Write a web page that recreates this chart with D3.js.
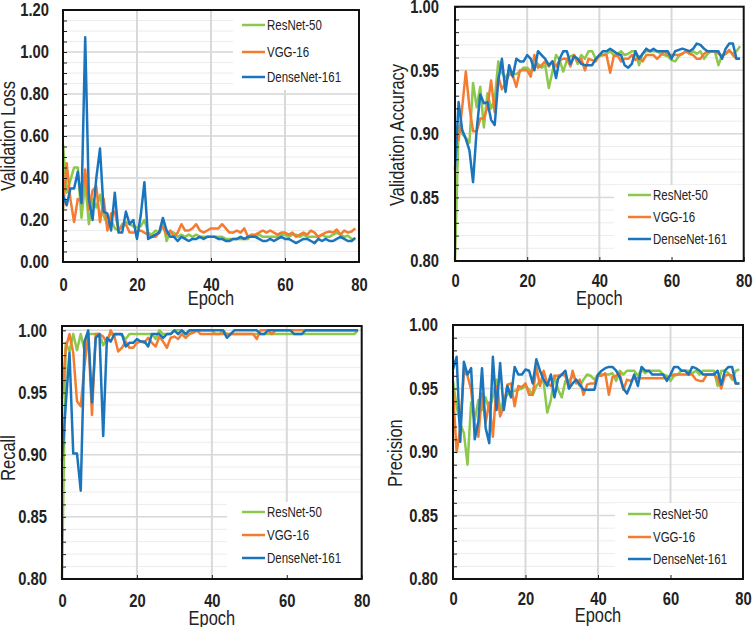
<!DOCTYPE html>
<html>
<head>
<meta charset="utf-8">
<script src="https://cdn.jsdelivr.net/npm/d3@7"></script>
<style>
  html, body { margin: 0; padding: 0; background: #fff; }
  svg { display: block; }
  text { font-family: "Liberation Sans", Arial, Helvetica, sans-serif; }
</style>
</head>
<body>
<svg id="chart" width="753" height="627"></svg>
<script>
// ---------------- DATA ----------------
const epochs = d3.range(0, 80);
const seriesNames = ["ResNet-50", "VGG-16", "DenseNet-161"];
const seriesColors = ["#8cc84b", "#f47c30", "#1b75bc"];
const xTickValues = [0, 20, 40, 60, 80];

const lossTicks = [0.0, 0.2, 0.4, 0.6, 0.8, 1.0, 1.2];
const metricTicks = [0.80, 0.85, 0.90, 0.95, 1.00];

const lossResNet = [0.56,0.33,0.39,0.45,0.45,0.21,0.38,0.18,0.30,0.26,
 0.32,0.22,0.18,0.20,0.16,0.15,0.18,0.19,0.18,0.17,
 0.165,0.17,0.20,0.14,0.13,0.15,0.14,0.20,0.10,0.145,
 0.14,0.12,0.13,0.12,0.13,0.12,0.13,0.12,0.12,0.12,
 0.12,0.12,0.12,0.12,0.11,0.11,0.11,0.11,0.11,0.11,
 0.11,0.13,0.12,0.13,0.12,0.12,0.12,0.12,0.12,0.13,
 0.13,0.12,0.13,0.13,0.12,0.13,0.12,0.12,0.12,0.12,
 0.13,0.12,0.12,0.13,0.14,0.13,0.12,0.125,0.11,0.11];
const lossVGG = [0.25,0.47,0.30,0.19,0.30,0.29,0.44,0.25,0.34,0.36,
 0.19,0.30,0.15,0.23,0.24,0.15,0.17,0.18,0.14,0.14,
 0.145,0.15,0.14,0.13,0.12,0.12,0.14,0.17,0.13,0.15,
 0.12,0.14,0.18,0.15,0.15,0.16,0.18,0.15,0.14,0.15,
 0.16,0.16,0.16,0.18,0.16,0.14,0.14,0.15,0.14,0.16,
 0.12,0.13,0.13,0.14,0.15,0.14,0.15,0.14,0.13,0.14,
 0.14,0.13,0.14,0.12,0.13,0.14,0.13,0.15,0.14,0.12,
 0.13,0.14,0.145,0.14,0.155,0.13,0.15,0.14,0.145,0.16];
const lossDense = [0.32,0.27,0.35,0.35,0.43,0.28,1.07,0.30,0.20,0.40,
 0.54,0.24,0.23,0.15,0.33,0.14,0.14,0.24,0.18,0.20,
 0.11,0.22,0.38,0.11,0.12,0.13,0.14,0.21,0.15,0.12,
 0.12,0.10,0.12,0.11,0.10,0.11,0.11,0.12,0.11,0.12,
 0.12,0.12,0.11,0.11,0.10,0.10,0.11,0.11,0.12,0.11,
 0.12,0.12,0.12,0.11,0.10,0.10,0.11,0.10,0.11,0.12,
 0.11,0.11,0.10,0.09,0.10,0.11,0.11,0.10,0.09,0.11,
 0.10,0.11,0.10,0.10,0.11,0.12,0.11,0.10,0.10,0.115];

const accResNet = [0.80,0.906,0.900,0.897,0.893,0.940,0.921,0.937,0.905,0.932,
 0.920,0.927,0.957,0.948,0.944,0.949,0.947,0.947,0.949,0.952,
 0.952,0.949,0.952,0.955,0.952,0.954,0.936,0.949,0.962,0.958,
 0.949,0.958,0.961,0.962,0.955,0.962,0.959,0.965,0.965,0.959,
 0.961,0.962,0.963,0.965,0.962,0.963,0.965,0.962,0.963,0.965,
 0.965,0.954,0.963,0.965,0.965,0.965,0.965,0.963,0.962,0.961,
 0.958,0.957,0.961,0.963,0.965,0.963,0.965,0.963,0.965,0.959,
 0.963,0.965,0.965,0.954,0.962,0.963,0.965,0.963,0.965,0.969];
const accVGG = [0.905,0.895,0.921,0.949,0.921,0.902,0.902,0.912,0.912,0.921,
 0.942,0.917,0.945,0.935,0.940,0.947,0.946,0.937,0.950,0.950,
 0.950,0.945,0.962,0.952,0.954,0.957,0.953,0.957,0.953,0.958,
 0.959,0.959,0.953,0.962,0.957,0.959,0.950,0.959,0.958,0.957,
 0.962,0.962,0.962,0.948,0.961,0.962,0.957,0.959,0.959,0.962,
 0.958,0.961,0.957,0.962,0.962,0.962,0.959,0.962,0.965,0.962,
 0.962,0.962,0.962,0.963,0.965,0.963,0.962,0.959,0.959,0.963,
 0.965,0.965,0.965,0.963,0.961,0.963,0.966,0.962,0.959,0.959];
const accDense = [0.872,0.925,0.903,0.896,0.887,0.862,0.903,0.931,0.924,0.925,
 0.911,0.907,0.942,0.959,0.933,0.954,0.945,0.959,0.957,0.957,
 0.962,0.959,0.950,0.965,0.962,0.959,0.954,0.957,0.944,0.959,
 0.965,0.965,0.955,0.961,0.959,0.955,0.954,0.954,0.954,0.959,
 0.962,0.965,0.965,0.967,0.965,0.963,0.962,0.954,0.952,0.955,
 0.965,0.959,0.963,0.967,0.965,0.967,0.965,0.965,0.965,0.965,
 0.959,0.965,0.966,0.967,0.966,0.965,0.967,0.971,0.970,0.967,
 0.965,0.965,0.965,0.965,0.959,0.967,0.971,0.971,0.959,0.959];

const recallResNet = [0.80,0.990,0.983,0.997,0.984,0.997,0.984,0.997,0.997,0.997,
 0.997,0.988,0.993,0.997,0.996,0.997,0.996,0.993,0.997,0.997,
 0.997,0.997,0.997,0.997,0.997,0.993,1.0,0.997,0.997,0.997,
 1.0,1.0,1.0,0.997,0.997,1.0,1.0,1.0,1.0,1.0,
 1.0,0.997,0.997,1.0,0.997,0.997,0.997,0.997,0.997,0.997,
 0.997,0.997,0.997,0.997,0.997,0.997,0.997,0.997,0.997,0.997,
 0.997,0.997,0.997,0.997,0.997,0.997,0.997,0.997,0.997,0.997,
 0.997,0.997,0.997,0.997,0.997,0.997,0.997,0.997,0.997,1.0];
const recallVGG = [0.945,0.986,0.997,0.982,0.943,0.939,0.971,0.997,0.932,0.997,
 0.997,0.995,0.990,1.0,0.995,0.983,0.986,0.991,0.986,0.986,
 0.990,0.991,0.990,0.994,0.990,0.987,0.995,0.991,0.986,0.994,
 0.995,0.993,0.997,0.994,0.997,0.998,1.0,0.997,0.997,0.997,
 0.997,0.997,0.997,0.997,0.997,0.997,0.997,0.997,0.997,0.997,
 0.997,0.997,0.993,1.0,1.0,1.0,0.997,1.0,1.0,1.0,
 1.0,1.0,1.0,1.0,1.0,1.0,1.0,1.0,1.0,1.0,
 1.0,1.0,1.0,1.0,1.0,1.0,1.0,1.0,1.0,1.0];
const recallDense = [0.895,0.940,0.982,0.901,0.901,0.871,0.991,1.0,0.942,0.994,
 0.997,0.915,0.994,0.991,0.997,0.997,0.997,0.987,0.990,0.990,
 0.993,0.991,0.991,0.987,0.997,0.997,0.997,0.994,0.997,0.997,
 1.0,0.997,1.0,0.997,1.0,1.0,1.0,1.0,1.0,1.0,
 1.0,1.0,1.0,1.0,0.994,0.997,1.0,1.0,1.0,1.0,
 1.0,1.0,1.0,0.997,0.997,1.0,1.0,1.0,1.0,1.0,
 1.0,1.0,0.997,0.997,0.997,1.0,1.0,1.0,1.0,1.0,
 1.0,1.0,1.0,1.0,1.0,1.0,1.0,1.0,1.0,1.0];

const precResNet = [0.956,0.936,0.922,0.915,0.890,0.939,0.925,0.941,0.933,0.943,
 0.933,0.944,0.957,0.933,0.941,0.945,0.948,0.948,0.949,0.950,
 0.952,0.949,0.945,0.952,0.956,0.955,0.931,0.941,0.960,0.949,
 0.943,0.956,0.956,0.960,0.956,0.952,0.957,0.961,0.960,0.957,
 0.961,0.961,0.961,0.961,0.962,0.956,0.964,0.961,0.964,0.964,
 0.964,0.960,0.965,0.962,0.964,0.964,0.964,0.964,0.961,0.960,
 0.956,0.960,0.961,0.964,0.964,0.964,0.962,0.964,0.961,0.964,
 0.964,0.964,0.964,0.952,0.964,0.964,0.962,0.957,0.964,0.965];
const precVGG = [0.948,0.900,0.918,0.964,0.960,0.949,0.922,0.912,0.946,0.923,
 0.939,0.912,0.952,0.928,0.936,0.953,0.954,0.936,0.952,0.951,
 0.954,0.945,0.945,0.967,0.952,0.964,0.954,0.952,0.960,0.960,
 0.961,0.960,0.950,0.964,0.954,0.957,0.945,0.953,0.954,0.954,
 0.960,0.960,0.962,0.945,0.959,0.960,0.962,0.949,0.957,0.956,
 0.958,0.958,0.958,0.958,0.958,0.958,0.958,0.958,0.958,0.958,
 0.960,0.961,0.961,0.961,0.961,0.961,0.961,0.957,0.956,0.956,
 0.961,0.961,0.961,0.958,0.950,0.960,0.961,0.960,0.954,0.954];
const precDense = [0.965,0.975,0.908,0.971,0.961,0.966,0.910,0.924,0.966,0.919,
 0.907,0.975,0.933,0.970,0.933,0.952,0.943,0.967,0.961,0.961,
 0.965,0.964,0.954,0.973,0.964,0.957,0.952,0.961,0.943,0.958,
 0.961,0.964,0.950,0.954,0.957,0.953,0.949,0.949,0.949,0.949,
 0.961,0.964,0.966,0.967,0.967,0.964,0.959,0.950,0.946,0.953,
 0.961,0.952,0.967,0.964,0.964,0.961,0.961,0.961,0.961,0.956,
 0.961,0.967,0.967,0.964,0.964,0.961,0.967,0.966,0.964,0.961,
 0.961,0.961,0.961,0.964,0.953,0.964,0.967,0.967,0.954,0.954];

// ---------------- LAYOUT ----------------
const panels = [
  { title: "Validation Loss", series: [lossResNet, lossVGG, lossDense],
    l: 63, r: 359, t: 10, b: 262, yMin: 0, yMax: 1.2, ticks: lossTicks, minorStep: 0.05,
    yPad: 14, xPad: 16.7, epochY: 305, titleX: 15, titleY: 136,
    legend: { x0: 233, y0: 10, x1: 359, y1: 90, ys: [25, 52, 77], sx: 242 } },
  { title: "Validation Accuracy", series: [accResNet, accVGG, accDense],
    l: 455, r: 743.7, t: 6.7, b: 261, yMin: 0.8, yMax: 1.0, ticks: metricTicks, minorStep: 0.01,
    yPad: 16, xPad: 12.9, epochY: 305, titleX: 404, titleY: 135,
    legend: { x0: 614, y0: 185, x1: 743.7, y1: 261, ys: [195, 217, 239], sx: 628 } },
  { title: "Recall", series: [recallResNet, recallVGG, recallDense],
    l: 62, r: 361.7, t: 326, b: 579, yMin: 0.8, yMax: 1.0035, ticks: metricTicks, minorStep: 0.01,
    yPad: 15, xPad: 14.9, epochY: 625, titleX: 15, titleY: 458,
    legend: { x0: 227, y0: 502, x1: 361.7, y1: 579, ys: [512, 535, 558], sx: 242 } },
  { title: "Precision", series: [precResNet, precVGG, precDense],
    l: 453, r: 743, t: 325, b: 579, yMin: 0.8, yMax: 1.0, ticks: metricTicks, minorStep: 0.01,
    yPad: 15, xPad: 13.2, epochY: 622, titleX: 402, titleY: 453,
    legend: { x0: 615, y0: 503, x1: 743, y1: 579, ys: [514, 537, 559], sx: 628 } }
];

const svg = d3.select("#chart");
const fmt = d3.format(".2f");

panels.forEach(p => {
  const x = d3.scaleLinear().domain([0, 80]).range([p.l, p.r]);
  const y = d3.scaleLinear().domain([p.yMin, p.yMax]).range([p.b, p.t]);
  const g = svg.append("g");

  const nMinor = Math.round((p.ticks[p.ticks.length - 1] - p.ticks[0]) / p.minorStep);
  const minorVals = d3.range(0, nMinor + 1).map(i => p.ticks[0] + i * p.minorStep);

  g.append("g").selectAll("line").data(minorVals).join("line")
    .attr("x1", p.l).attr("x2", p.r)
    .attr("y1", d => y(d)).attr("y2", d => y(d))
    .attr("stroke", "#ececec").attr("stroke-width", 1);
  g.append("g").selectAll("line").data(p.ticks).join("line")
    .attr("x1", p.l).attr("x2", p.r)
    .attr("y1", d => y(d)).attr("y2", d => y(d))
    .attr("stroke", "#d9d9d9").attr("stroke-width", 1.5);
  g.append("g").selectAll("line").data(xTickValues.slice(1, -1)).join("line")
    .attr("x1", d => x(d)).attr("x2", d => x(d))
    .attr("y1", p.t).attr("y2", p.b)
    .attr("stroke", "#d9d9d9").attr("stroke-width", 2);

  const L = p.legend;
  g.append("rect").attr("x", L.x0).attr("y", L.y0)
    .attr("width", L.x1 - L.x0).attr("height", L.y1 - L.y0).attr("fill", "#fff");

  const line = d3.line().x((d, i) => x(epochs[i])).y(d => y(d));
  p.series.forEach((s, k) => {
    g.append("path").datum(s).attr("d", line)
      .attr("fill", "none").attr("stroke", seriesColors[k])
      .attr("stroke-width", 2.5).attr("stroke-linejoin", "round");
  });

  seriesNames.forEach((name, k) => {
    g.append("line").attr("x1", L.sx).attr("x2", L.sx + 23)
      .attr("y1", L.ys[k]).attr("y2", L.ys[k])
      .attr("stroke", seriesColors[k]).attr("stroke-width", 2.5);
    g.append("text").attr("x", L.sx + 25).attr("y", L.ys[k] + 5)
      .attr("font-size", 14).attr("fill", "#222").text(name);
  });

  g.append("g").attr("transform", `translate(${p.l},0)`)
    .call(d3.axisLeft(y).tickValues(minorVals).tickSize(-4).tickFormat(""))
    .call(a => a.select(".domain").remove())
    .call(a => a.selectAll("line").attr("stroke", "#222"));
  g.append("g").attr("transform", `translate(${p.l},0)`)
    .call(d3.axisLeft(y).tickValues(p.ticks).tickSize(0).tickPadding(p.yPad).tickFormat(fmt))
    .call(a => a.select(".domain").remove())
    .call(a => a.selectAll("text").attr("font-size", 18).attr("font-weight", "bold").attr("fill", "#222"));
  g.append("g").attr("transform", `translate(0,${p.b})`)
    .call(d3.axisBottom(x).tickValues(xTickValues).tickSize(-4).tickPadding(p.xPad).tickFormat(d3.format("d")))
    .call(a => a.select(".domain").remove())
    .call(a => a.selectAll("line").attr("stroke", "#222"))
    .call(a => a.selectAll("text").attr("font-size", 18).attr("font-weight", "bold").attr("fill", "#222"));

  g.append("rect").attr("x", p.l).attr("y", p.t)
    .attr("width", p.r - p.l).attr("height", p.b - p.t)
    .attr("fill", "none").attr("stroke", "#111").attr("stroke-width", 2);

  g.append("text").attr("x", (p.l + p.r) / 2).attr("y", p.epochY)
    .attr("text-anchor", "middle").attr("font-size", 20).attr("fill", "#222").text("Epoch");
  g.append("text")
    .attr("transform", `translate(${p.titleX},${p.titleY}) rotate(-90)`)
    .attr("text-anchor", "middle").attr("font-size", 20).attr("fill", "#222").text(p.title);
});

// narrow (condensed) look: compress glyphs horizontally
svg.selectAll("text").each(function () {
  const w = this.getComputedTextLength();
  if (w > 0) {
    this.setAttribute("textLength", (w * 0.82).toFixed(2));
    this.setAttribute("lengthAdjust", "spacingAndGlyphs");
  }
});
</script>
</body>
</html>
